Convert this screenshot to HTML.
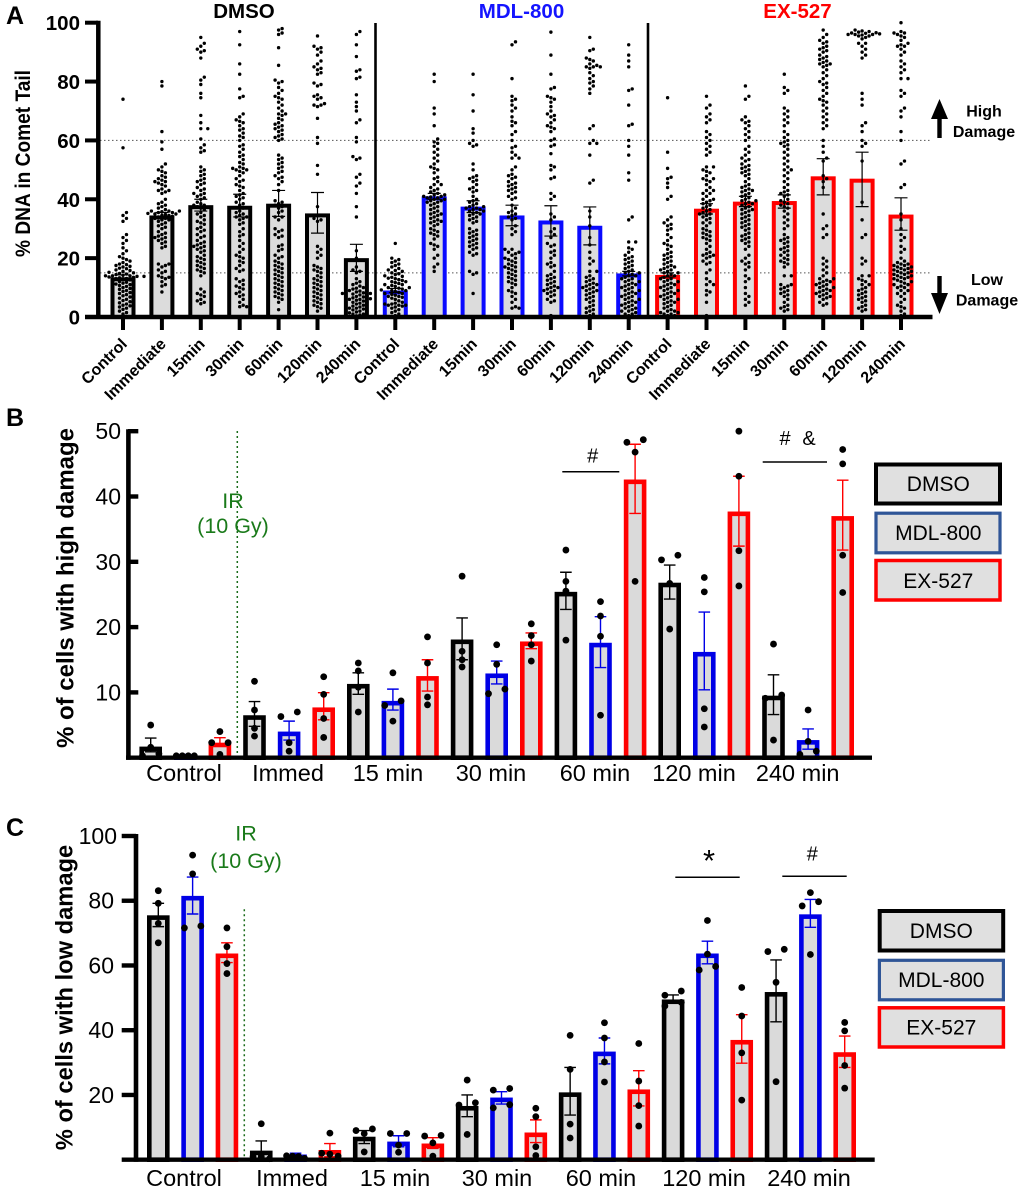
<!DOCTYPE html>
<html lang="en">
<head>
<meta charset="utf-8">
<title>Comet assay DNA damage</title>
<style>
html,body{margin:0;padding:0;background:#fff;}
svg{display:block;font-family:"Liberation Sans",Arial,sans-serif;}
</style>
</head>
<body>
<svg id="figure" xmlns="http://www.w3.org/2000/svg" width="1020" height="1191" viewBox="0 0 1020 1191">
<rect x="0" y="0" width="1020" height="1191" fill="#fff"/>
<g id="panelA"></g>
<g id="panelB"></g>
<g id="panelC"></g>

<text x="6" y="24" font-size="25" font-weight="bold">A</text>
<text x="6" y="426" font-size="25" font-weight="bold">B</text>
<text x="6" y="836" font-size="25" font-weight="bold">C</text>

<text transform="translate(30,163.5) rotate(-90)" text-anchor="middle" font-size="21" font-weight="bold" textLength="187" lengthAdjust="spacingAndGlyphs">% DNA in Comet Tail</text>
<text x="244" y="18" text-anchor="middle" font-size="20.5" font-weight="bold">DMSO</text>
<text x="521.5" y="18" text-anchor="middle" font-size="20.5" font-weight="bold" fill="#1414ff">MDL-800</text>
<text x="797.5" y="18" text-anchor="middle" font-size="20.5" font-weight="bold" fill="#ff0000">EX-527</text>

<polygon points="931,119 937.3,119 937.3,138 941.7,138 941.7,119 948,119 939.5,99" fill="#000"/>
<polygon points="931,293 937.3,293 937.3,276 941.7,276 941.7,293 948,293 939.5,314" fill="#000"/>
<text x="984" y="116.5" text-anchor="middle" font-size="16" font-weight="bold">High</text>
<text x="984" y="137" text-anchor="middle" font-size="16" font-weight="bold">Damage</text>
<text x="987" y="285" text-anchor="middle" font-size="16" font-weight="bold">Low</text>
<text x="987" y="305.5" text-anchor="middle" font-size="16" font-weight="bold">Damage</text>

<text transform="translate(73.5,588) rotate(-90)" text-anchor="middle" font-size="24" font-weight="bold">% of cells with high damage</text>
<line x1="237.3" y1="431" x2="237.3" y2="755" stroke="#1a6b1a" stroke-width="1.5" stroke-dasharray="2 3"/>
<text x="233" y="508" text-anchor="middle" font-size="21.5" fill="#1a7a1a">IR</text>
<text x="233" y="533" text-anchor="middle" font-size="21.5" fill="#1a7a1a">(10 Gy)</text>
<line x1="562.3" y1="471.7" x2="619.3" y2="471.7" stroke="#000" stroke-width="1.5"/>
<text x="592.7" y="462.7" text-anchor="middle" font-size="20">#</text>
<line x1="762.7" y1="462" x2="827" y2="462" stroke="#000" stroke-width="1.5"/>
<text x="785" y="445" text-anchor="middle" font-size="20">#</text>
<text x="809" y="445" text-anchor="middle" font-size="20">&amp;</text>

<g font-size="21" text-anchor="middle">
<rect x="876" y="464.5" width="124" height="39" fill="#e0e0e0" stroke="#000" stroke-width="4"/>
<text x="938.3" y="491">DMSO</text>
<rect x="876" y="513.2" width="124" height="39.6" fill="#e0e0e0" stroke="#2f5597" stroke-width="3.2"/>
<text x="938.3" y="540">MDL-800</text>
<rect x="876" y="560.5" width="124" height="39.5" fill="#e0e0e0" stroke="#ff0000" stroke-width="3.5"/>
<text x="938.3" y="588">EX-527</text>
</g>

<text transform="translate(72.5,997.5) rotate(-90)" text-anchor="middle" font-size="23.7" font-weight="bold">% of cells with low damage</text>
<line x1="244.3" y1="909.3" x2="244.3" y2="1157" stroke="#1a6b1a" stroke-width="1.5" stroke-dasharray="2 3"/>
<text x="246" y="840.7" text-anchor="middle" font-size="21.5" fill="#1a7a1a">IR</text>
<text x="246" y="868" text-anchor="middle" font-size="21.5" fill="#1a7a1a">(10 Gy)</text>
<line x1="675.3" y1="877.3" x2="739.7" y2="877.3" stroke="#000" stroke-width="1.5"/>
<text x="709" y="871" text-anchor="middle" font-size="31">*</text>
<line x1="782.3" y1="876.3" x2="846.7" y2="876.3" stroke="#000" stroke-width="1.5"/>
<text x="812.3" y="860.3" text-anchor="middle" font-size="20">#</text>

<g font-size="21" text-anchor="middle">
<rect x="879.7" y="911" width="123.5" height="39.5" fill="#e0e0e0" stroke="#000" stroke-width="4"/>
<text x="941.3" y="938">DMSO</text>
<rect x="879.4" y="960.3" width="124" height="39.5" fill="#e0e0e0" stroke="#2f5597" stroke-width="3.2"/>
<text x="941.3" y="987">MDL-800</text>
<rect x="879.4" y="1007.8" width="124" height="39.2" fill="#e0e0e0" stroke="#ff0000" stroke-width="3.5"/>
<text x="941.3" y="1034.7">EX-527</text>
</g>
</svg>

<script>
// ---------- Panel A data ----------
const aCategories = ["Control","Immediate","15min","30min","60min","120min","240min"];
const aYTicks = [0,20,40,60,80,100];
const aThresholds = [60,15];
const aMeansDmso = [13.5,34.5,38,37.8,38.5,35.2,20];
const aMeansMdl = [9,41,37.5,34.5,32.8,31,14.8];
const aMeansEx = [14.3,36.8,39.2,39.4,47.8,47,34.8];
const aUpperDmso = [14.3,35.5,40,41.7,43,42.3,24.7];
const aLowerDmso = [12.8,33.5,36,34,34.2,28.5,15.5];
const aUpperMdl = [9.7,42,39.5,38,37.8,37.4,15.5];
const aLowerMdl = [8.3,40,35.5,31,27.5,24.5,14];
const aUpperEx = [15,38.5,41,41.5,53.8,56,40.5];
const aLowerEx = [13.6,35,37.5,37,41.5,37.5,29.5];
const aDotsDmso = [
[74,57.5,35.5,34.5,33.5,32.5,28,27,26,25,23.5,22.5,21.5,20.5,20,19.5,19,18.5,18,17.8,17.5,17.2,17,16.6,16.4,16,15.8,15.5,15.2,15,14.8,14.6,14.4,14.2,14,14,14,13.8,13.8,13.6,13.5,13.3,13.1,13,12.8,12.6,12.4,12.2,12,11.8,11.5,11.2,11,10.7,10.4,10,9.7,9.4,9,8.7,8.3,8,7.6,7.2,6.8,6.4,6,5.6,5.2,4.8,4.4,4,3.8,3.4,3,2.6,2,1.5,1],
[80,78.5,63,59.5,57,52,51,50,49.5,49,48,47.5,47,46.5,46,46,45.5,45,44.5,43.5,43,43,42.5,42,40,39,38.5,38,37.5,37,36.5,36,36,36,35.8,35.5,35.5,35.2,35,35,34.8,34.5,34.5,34.2,34,33.5,33.5,33,33,32.5,32,31.5,31,30.5,30,29,28.5,28,27.5,27,27,26.5,26,25.5,25,24,23.5,18,18,17.5,17,16,15.5,15,14,14,13.5,13.5,13,12,11,10.5,8.5],
[95,93,92,91,90.5,90,88,81.5,80.5,79,76,74.5,68.5,66,64,64,60.5,58.5,57.5,56.5,56,51,50,49.5,48.5,48,47,46.5,46,45.5,45,44,43.5,43,42,42,41.5,41,40.5,40,39,38.5,38,38,37.5,37,36.5,35.5,35,34.5,34,33,32.5,32,31.5,30.5,30,29.5,29,28,27.5,27,26,25.5,25,24.5,24,24,23.5,23,22.5,22,21,20.5,20,19.5,19,18.5,18,17.5,17,16.5,16,15.5,15,14,9.5,8.5,8,7.5,7,6,5.5,5,4.5],
[97,92.5,86,82.5,77.5,75,74.5,69,68,67,66.5,66,65,64,63.5,62.5,61.5,61,60,58.5,58,57,56,55,54.5,53.5,52.5,52,51,50.5,50.5,50,50,49.5,49,48,47,46.5,46,45,44.5,44,43,42,41.5,41,40.5,40,39,38.5,38,37,36,35.5,35,34.5,34,34,33.5,33,32,31.5,30,29,28,27.5,26,25,24,23,22,21,20.5,20,19,18.5,17.5,16.5,16,15.5,13,12.5,12,11,10.5,10,9.5,8.5,8,7.5,7,6,5,4,3.5,3.5],
[98,97.5,96.5,96,91.5,85.5,80.5,80,79.5,78,77,76,75,74.5,74,73,72,71,70,69,69,68.5,67.5,67,66,65.5,65,64.5,64,63.5,63,62,61.5,61,60.5,60,55,54,53.5,52.5,52,51,50.5,49.5,49,48,47.5,47,46,45,43,39.5,39,38.5,38,37.5,37,36,35.5,34,34,33,30,29.5,29,28,27.5,27,24.5,24,23,22.5,21,20.5,20,19,18.5,18,17.5,17,16.5,16,15.5,15,14.5,14,13.5,13,12.5,12,11.5,11,10.5,10,9.5,9,8.5,8,7.5,7,6.5,6,5,2.5],
[95.5,92,91.5,91,90,89,87,86,85,84.5,84,83,82.5,79.5,79,78.5,75.5,75,74.5,74,72.5,72,72,71.5,67.5,61,59,51.5,48.5,37.5,33.5,33,32.5,24,23,22,21,20,17.5,17,16.5,16,15.5,15,14,13.5,13,12.5,12,11.5,11,10.5,10,9.5,9,8.5,8,7.5,7,6.5,6,5.5,5,4.5,4,3.5,3,2],
[97,96,92.5,88.5,84,83.5,81.5,81,75.5,73,71.5,70,67,66,61,59.5,54.5,54,53.5,48.5,47.5,45.5,44.5,42,37.5,34,22.5,20,17,16,15.5,15,13,12,11.5,11,10.5,10,9.8,9.5,9.2,9,8.8,8.5,8.2,8,8,7.8,7.5,7.2,7,7,6.8,6.5,6.2,6,6,5.7,5.4,5,5,4.7,4.4,4,4,3.7,3.4,3,3,2.7,2.4,2,2,1.7,1.4,1,1,0.7,0.4]
];
const aDotsMdl = [
[25,20,19.5,19,18.5,18,17.5,17,16.5,16,15.8,15.5,15,14.7,14.4,14,13.8,13.5,13.2,13,12.7,12.4,12,12,11.7,11.4,11,11,10.7,10.4,10,10,9.8,9.5,9.2,9,9,8.7,8.4,8,8,7.7,7.4,7,7,6.7,6.4,6,5.5,5,4.7,4.4,4.4,4,4,4,3.7,3.4,3,2.5,2,1.5,1,0.5],
[82.5,80,71,69,65,60.5,59.5,59,58,57,56,55,54,53,52,51,50.5,50,49,47.5,47,46,45,45,44,43.5,43,42.5,42,41.5,41.5,41,41,40.8,40.5,40.5,40,40,39.5,39.5,39,39,38.5,38,37.5,37,36.5,36,35.5,35,35,34.5,34,33.5,33,32.5,32.5,32,31.5,31,30,29.5,29,28.5,28,27.5,26.5,25,24.5,24,23,21,20,18,17,15.5],
[82.5,75.5,70,64,62.5,60,59,58.5,58,52,50,48,47.5,47,46.5,46,45,44,43.5,43,42.5,41,40,39.5,39,38.5,38,37.5,37.5,37,37,36.5,36.5,36,36,35.5,35,35,34.5,34,33.5,33,32.5,32,30,29.5,29,28.5,28,27.5,27,26.5,26,25.5,25,24.5,24,23.5,23,22,21.5,21,15.5,15,14.5,8],
[93.5,92.5,81,75,74,73.5,72,71,70,68,66.5,66,65,63,62,60,58,57.5,56,55,54,54,51,50,48.5,48,47.5,47,46,45.5,45,44.5,44,43.5,43,42.5,42,41,40.5,40,38,37,36,35.5,35,34.5,34,33.5,33,31,30,29,28,23,23,22,22,21.5,21,20,20,19.5,19,18.5,18,17.5,17,17,16.5,16,15.5,15,14.5,14,13.5,13,12.5,12,11.5,11,10,9,8.5,8,7,6,5,3.5,3,3],
[96.8,89,82.5,78,77.5,75,74.5,74,73,71.5,70,69,68.5,68,67,66,65,64.5,64,63,60.5,60,58.5,58,55.5,51.5,51,50,47.5,47,42,41,40,35,34,33,30,29,28,27,25,24.5,24,22.5,22,21,20,18.5,18,17.5,17,15.5,14.5,14,13.5,13,12.5,12,11.5,11,10.5,10,10,9.5,9,9,8.5,8,7.5,7,6,5.5,5,0.5],
[95,91,90.5,88,87.5,87,86,85.5,85,85,85,84.5,83,82,81,80,79.5,78.5,77.5,76,65,64,60,59,59,55,46.5,45.5,36,34,31,27,24.5,22,20,19,18,15.5,15.5,14,13.5,13,12.5,12,11.5,11,11,10.5,10,10,9.5,9,9,8.5,8,7.5,7,6.5,6,5.5,5,4,3.5,3,2.5,2,1.5,1,0.5],
[92.5,89,87,85,77.5,77,72,65.5,65,60,58,55,49,46.5,34,33,25.5,25.5,23.5,23,22,21,20.5,20,19.5,19,18.5,18,17.5,17,16.5,16,15.5,15,15,14.5,14,14,13.5,13,13,12.5,12,12,11.5,11,11,10.5,10,10,9.5,9,9,8.5,8,8,7.5,7,7,6.5,6,6,5.5,5,5,4.5,4,4,3.5,3,3,2.5,2,2,1.5,1,1,0.5]
];
const aDotsEx = [
[74.5,56,50.5,47.5,47,45.5,44,41,40,34,33,32,31.5,31,30,29.5,28,27,26,25,24.5,24,23,22,21.5,21,20.5,20,19.5,19,18.5,18,17.5,17,17,16.5,16,16,15.5,15,15,14.5,14,14,13.5,13,13,12.5,12,12,11.5,11,11,10.5,10,10,9.5,9,9,8.5,8,8,7.5,7,7,6.5,6,6,5.5,5,5,4.5,4,3.5,3,2.5,2,2,1.5,1.5,1,1,0.5,0.5],
[75,72,71,69,68,67,66,63,62,61,60,59,58,57,56,55,51,51,50,49.5,49,48,47,47,46.5,46,45,44,43,43,42,42,41,40,40,39.5,39,38.5,38,37.5,37,36.5,36,35.5,35,35,34.5,34,33.5,33,32,32,31,30,29.5,29,28.5,28,27.5,27,26.5,26,25,24,23,22,21.5,21,21,20.5,20,19,18.5,18,16,15,13,12,11,11,9,8.5,7.5,5,0.5],
[78.5,75,74,68,67,66.5,66,65,64,63,62,61,60,58,57,56,55,54,53.5,53,52,51.5,51,50.5,50,49.5,49,48.5,48,47,46,45,44.5,44,43.5,43,43,42.5,42,41.5,41,40.5,40,39.5,39.5,39,38.5,38.5,38,37.5,37,36.5,36.5,36,35.5,35,34.5,34,33.5,33,32.5,32,31.5,31,30.5,30,29.5,28.5,28,27.5,27,26.5,26,25.5,25,24,23,21,20,19,18.5,18,17,16,14,13,12,10,8,7,6,5,4],
[82.5,78,77,76,71,70,69,68,67,66,65,63,62,61,60,59.5,59,58.5,58,57,56,55,54,53,52,51,50,50,49,48,47,46,45,44,43,42.5,42,41.5,41,40,39.5,39,38.5,38,37.5,37,36,35,34,33,32,31,30,28,27,26.5,26,25.5,25,24,23.5,23,22.5,22,21,21,20,19.5,19,18.5,18,17,14,14,11,11,10.5,10,9.5,9,8.5,8,7.5,7,6,5,4,3.5,3,2.5,2],
[97.5,96,95,94,93.5,93,92,91.5,91,90.5,90,89,88.5,88,87.5,87,86.5,86,86,85.5,85,84,83,82,81,80,79.5,79,78,77,76,75,74,73.5,73,72,71,70,69,68,67,66,65,64,60,58,56,54,53,48,47,46,44,35,31,30,28,27,20,19,18,17,16,15,14,13,13,12.5,12,12,11.5,11,11,10.5,10,10,9.5,9,9,8.5,8,8,7.5,7,7,6.5,6,5,4.5,4],
[97.5,97.2,97,96.8,96.6,96.5,96.4,96.2,96,96,96,95.8,95.5,95.5,95,94.5,93,93,92,91,90,89,88,76,74,72,66,65,63,60,59,58,53,39,33,28,27,20,19,18,14,14,13,12.5,12,11,11,10,9.5,9,8.5,8,7.5,7,6.5,6,5.5,5,4,3.5,3,2.5,2],
[100,97,96.5,96.5,96,95.5,95,94,93,92.5,92,92,91,90,89,87,86,85,84,83,81,81,77,76,75,71,70,68,63,60,53,52,45,44,35,33,30,28,27,26,24,23,22,20,19,18.5,18,18,17.5,17.5,17,17,16.5,16.5,16,16,15.5,15.5,15,15,14.5,14.5,14,14,13.5,13.5,13,13,12.5,12,12,11.5,11,11,10.5,10,10,9,9,8,8,7,6,5,4,3.5,3,2,1,0.5]
];

// ---------- Panel B data ----------
const bCategories = ["Control","Immed","15 min","30 min","60 min","120 min","240 min"];
const bYTicks = [10,20,30,40,50];
const bMeansDmso = [1.7,6.5,11.3,18.1,25.4,26.8,9.5];
const bMeansMdl = [0.5,4,8.7,12.9,17.6,16.2,2.7];
const bMeansEx = [2.3,7.7,12.5,17.8,42.6,37.7,37];
const bUpperDmso = [3,8.6,13,21.4,28.4,29.5,12.7];
const bLowerDmso = [0.9,4.8,9.7,15,22.7,24.3,6.6];
const bUpperMdl = [0.5,5.6,10.5,14.8,21.6,22.3,4.4];
const bLowerMdl = [0.5,2.7,7.3,11.3,13.8,10.4,1.3];
const bUpperEx = [3.06,9.95,15,19.1,48,43.1,42.5];
const bLowerEx = [1.9,5.8,10.2,16.7,37.4,32.4,31.8];
const bDotsDmso = [[5,1.6,0.6,0.3],[11.7,7.3,4.5,3.3],[14.5,13.3,10.8,7],[27.8,16.3,15,13.9],[31.8,27,25.5,18],[31,30.3,26.7,19.7],[17.4,9.6,9.1,2.7]];
const bDotsMdl = [[0.3,0.3,0.3,0.3],[7,6.3,2.3,1],[13,8.7,8,5.6],[17.3,14.3,10.5,9.8],[23.9,21.7,18.6,6.5],[27.6,25.4,7.5,4.7],[7.3,2.5,1,0.5]];
const bDotsEx = [[4,2.3,2.3,0.5],[12.4,9.7,6,3.1],[18.5,14.5,9.3,8.1],[20.5,18.7,17.3,14.8],[48.7,48.3,46.8,27],[50,43.1,31.7,26.3],[47.2,45,31,25.3]];

// ---------- Panel C data ----------
const cCategories = ["Control","Immed","15 min","30 min","60 min","120 min","240 min"];
const cYTicks = [20,40,60,80,100];
const cMeansDmso = [75.5,2.8,7.1,16.6,20.8,49.5,51.8];
const cMeansMdl = [81.5,1.6,5.6,19.2,33.4,63.7,75.8];
const cMeansEx = [63.7,3,5,8.4,21.7,37,33.2];
const cUpperDmso = [79.2,5.8,9,20,28.5,50.9,61.7];
const cLowerDmso = [72,0.4,5,13.3,13.8,48.3,42.6];
const cUpperMdl = [87.3,2,7.4,21,37.6,67.5,80.4];
const cLowerMdl = [75.9,0.4,4,17.2,29.6,60.5,71.8];
const cUpperEx = [67,5,6.8,12.3,27.5,44.8,38.2];
const cLowerEx = [60.9,0.9,3.5,5.3,16.6,29.8,28.5];
const cDotsDmso = [[83.1,79.2,73,67],[11.1,1,1,0.3],[9.5,9,8.1,2.4],[24.6,17.6,16.9,7.8],[38.4,27.9,11,6.7],[52.1,50.8,48.6,47.5],[65,64.3,54.8,24.1]];
const cDotsMdl = [[94.1,88.3,72.2,71.6],[1.2,1.1,1,0.4],[8.1,8.1,4.5,2.3],[22,21.5,17,16],[42.3,37.6,30.2,24],[73.9,63.5,59.7,58.6],[82.5,79.7,78.4,63.4]];
const cDotsEx = [[71.6,65.8,60.6,57.5],[8.2,2,1.7,1.1],[7.5,7.3,5.2,1.1],[15.9,13.3,4,1.3],[35.9,24.3,16.7,10.4],[53.2,44.4,33,18.4],[42.4,39.8,29.1,22.1]];

// ---------- Axis functions ----------
function aY(v){ return 317 - v * 2.943; }
function aX(series, i){ return 123 + (series * 7 + i) * 38.9; }
function bY(v){ return 757.7 - v * 6.53; }
function bX(series, i){ return 150.7 + (i * 3 + series) * 34.6; }
function cY(v){ return 1159.7 - v * 3.237; }
function cX(series, i){ return 158.3 + (i * 3 + series) * 34.32; }

const NS = "http://www.w3.org/2000/svg";
const SERIES_COLORS_A = ["#000000","#0a0aff","#ff0000"];
const SERIES_COLORS_BC = ["#000000","#0000e6","#ff0000"];
const SERIES_NAMES = ["dmso","mdl-800","ex-527"];

function make(tag, parent, attrs){
  const el = document.createElementNS(NS, tag);
  for (const k in attrs) el.setAttribute(k, attrs[k]);
  parent.appendChild(el);
  return el;
}

// Beeswarm for the dense panel: each point takes the nearest free slot.
function swarm(values, yFn, dia, step){
  const placed = [];
  const sorted = values.slice().sort(function(a,b){return a-b;});
  sorted.forEach(function(v){
    const y = yFn(v);
    let k = 0, off = 0;
    for (;;){
      off = (k % 2 ? 1 : -1) * Math.ceil(k / 2) * step;
      let free = true;
      for (let j = 0; j < placed.length; j++){
        const dx = placed[j].off - off, dy = placed[j].y - y;
        if (dx * dx + dy * dy < dia * dia * 0.8){ free = false; break; }
      }
      if (free) break;
      k++;
    }
    placed.push({off: off, y: y});
  });
  return placed;
}

// Row layout for the sparse panels: close values sit side by side.
function rowLayout(values, yFn, threshold){
  const sorted = values.slice().sort(function(a,b){return b-a;});
  const rows = [];
  sorted.forEach(function(v){
    const y = yFn(v);
    const last = rows[rows.length - 1];
    if (last && Math.abs(yFn(last[0]) - y) < threshold) last.push(v);
    else rows.push([v]);
  });
  const out = [];
  rows.forEach(function(r){
    const n = r.length;
    r.forEach(function(v, i){
      let off = 0;
      if (n === 2) off = i === 0 ? 8.2 : -8.2;
      else if (n === 3) off = (i - 1) * 8.2;
      else if (n >= 4) off = (i - (n - 1) / 2) * 6;
      out.push({off: off, y: yFn(v)});
    });
  });
  return out;
}

// ---------- Panel A ----------
(function(){
  const g = document.getElementById("panelA");
  aThresholds.forEach(function(t){
    const el = make("line", g, {x1:100,x2:932,y1:aY(t),y2:aY(t),stroke:"#555","stroke-width":1,"stroke-dasharray":"1.5 2.5"});
    
    
  });
  const means = [aMeansDmso,aMeansMdl,aMeansEx];
  const uppers = [aUpperDmso,aUpperMdl,aUpperEx];
  const lowers = [aLowerDmso,aLowerMdl,aLowerEx];
  const dots = [aDotsDmso,aDotsMdl,aDotsEx];
  means.forEach(function(m, s){
    m.forEach(function(v, i){
      const cx = aX(s, i), top = aY(v);
      const bar = make("rect", g, {x:cx-10.5,y:top+2,width:21,height:Math.max(0,aY(0)-top-2),fill:"#dcdcdc",stroke:SERIES_COLORS_A[s],"stroke-width":4});
      
      
    });
  });
  dots.forEach(function(col, s){
    col.forEach(function(vals, i){
      const cx = aX(s, i);
      swarm(vals, aY, 4, 3.5).forEach(function(p){
        const c = make("circle", g, {cx:cx+p.off,cy:p.y,r:1.7,fill:"#000"});
        
        
      });
    });
  });
  means.forEach(function(m, s){
    m.forEach(function(v, i){
      const cx = aX(s, i), yu = aY(uppers[s][i]), yl = aY(lowers[s][i]);
      const e = make("path", g, {d:"M"+(cx-6.5)+" "+yu+"H"+(cx+6.5)+"M"+cx+" "+yu+"V"+yl+"M"+(cx-6.5)+" "+yl+"H"+(cx+6.5),fill:"none",stroke:"#000","stroke-width":1.2});
      
      
      const t = make("line", g, {x1:cx,x2:cx,y1:aY(0),y2:330,stroke:"#000","stroke-width":4});
      
      
      const lab = make("text", g, {transform:"translate("+(cx+5)+",345) rotate(-45)","text-anchor":"end","font-size":16,"font-weight":"bold"});
      lab.textContent = aCategories[i];
      
      
    });
  });
  [375.5,648].forEach(function(x){
    const d = make("line", g, {x1:x,x2:x,y1:23,y2:317,stroke:"#000","stroke-width":2.6});
    
    
  });
  const ya = make("line", g, {x1:98.3,x2:98.3,y1:aY(100)-2,y2:aY(0)+2,stroke:"#000","stroke-width":4.5});
  
  
  const xa = make("line", g, {x1:85,x2:932.5,y1:aY(0),y2:aY(0),stroke:"#000","stroke-width":4.5});
  
  
  aYTicks.forEach(function(t){
    const k = make("line", g, {x1:85,x2:98,y1:aY(t),y2:aY(t),stroke:"#000","stroke-width":4});
    
    
    const l = make("text", g, {x:80,y:aY(t)+7.5,"text-anchor":"end","font-size":20.5,"font-weight":"bold"});
    l.textContent = t;
    
    
  });
})();

// ---------- Panels B and C ----------
function drawSparse(gid, xFn, yFn, means, uppers, lowers, dots, rowThreshold){
  const g = document.getElementById(gid);
  means.forEach(function(m, s){
    m.forEach(function(v, i){
      const cx = xFn(s, i), top = yFn(v), col = SERIES_COLORS_BC[s];
      const bar = make("rect", g, {x:cx-9,y:top+2.3,width:18,height:Math.max(0,yFn(0)-top-2.3),fill:"#dadada",stroke:col,"stroke-width":4.6});
      
      
      const yu = yFn(uppers[s][i]), yl = yFn(lowers[s][i]);
      const e = make("path", g, {d:"M"+(cx-5.8)+" "+yu+"H"+(cx+5.8)+"M"+cx+" "+yu+"V"+yl+"M"+(cx-5.8)+" "+yl+"H"+(cx+5.8),fill:"none",stroke:col,"stroke-width":1.4});
      
      
    });
  });
  dots.forEach(function(cols, s){
    cols.forEach(function(vals, i){
      const cx = xFn(s, i);
      rowLayout(vals, yFn, rowThreshold).forEach(function(p){
        const c = make("circle", g, {cx:cx+p.off,cy:p.y,r:3.4,fill:"#000"});
        
        
      });
    });
  });
}

drawSparse("panelB", bX, bY, [bMeansDmso,bMeansMdl,bMeansEx], [bUpperDmso,bUpperMdl,bUpperEx], [bLowerDmso,bLowerMdl,bLowerEx], [bDotsDmso,bDotsMdl,bDotsEx], 6);
drawSparse("panelC", cX, cY, [cMeansDmso,cMeansMdl,cMeansEx], [cUpperDmso,cUpperMdl,cUpperEx], [cLowerDmso,cLowerMdl,cLowerEx], [cDotsDmso,cDotsMdl,cDotsEx], 4.5);

(function(){
  const g = document.getElementById("panelB");
  const ya = make("line", g, {x1:128.4,x2:128.4,y1:bY(50)-2,y2:bY(0)+2,stroke:"#000","stroke-width":4.6});
  
  
  const xa = make("line", g, {x1:126,x2:872,y1:bY(0),y2:bY(0),stroke:"#000","stroke-width":4.4});
  
  
  bYTicks.forEach(function(t){
    const k = make("line", g, {x1:128,x2:138.3,y1:bY(t),y2:bY(t),stroke:"#000","stroke-width":4.4});
    
    
    const l = make("text", g, {x:121,y:bY(t)+8,"text-anchor":"end","font-size":23});
    l.textContent = t;
    
    
  });
  const centers = [184,288,388,491,595,694,797.7];
  bCategories.forEach(function(c, i){
    const l = make("text", g, {x:centers[i],y:781,"text-anchor":"middle","font-size":23.5});
    l.textContent = c;
    
    
  });
})();

(function(){
  const g = document.getElementById("panelC");
  const ya = make("line", g, {x1:136,x2:136,y1:cY(100)-2,y2:cY(0)+2,stroke:"#000","stroke-width":4.6});
  
  
  const xa = make("line", g, {x1:121.7,x2:874.7,y1:cY(0),y2:cY(0),stroke:"#000","stroke-width":4.4});
  
  
  cYTicks.forEach(function(t){
    const k = make("line", g, {x1:121.7,x2:136,y1:cY(t),y2:cY(t),stroke:"#000","stroke-width":4.4});
    
    
    const l = make("text", g, {x:t === 100 ? 117 : 114,y:cY(t)+8,"text-anchor":"end","font-size":23});
    l.textContent = t;
    
    
  });
  const centers = [184,292,395,497,601,704,809];
  cCategories.forEach(function(c, i){
    const l = make("text", g, {x:centers[i],y:1186,"text-anchor":"middle","font-size":23.5});
    l.textContent = c;
    
    
  });
})();
</script>
</body>
</html>
